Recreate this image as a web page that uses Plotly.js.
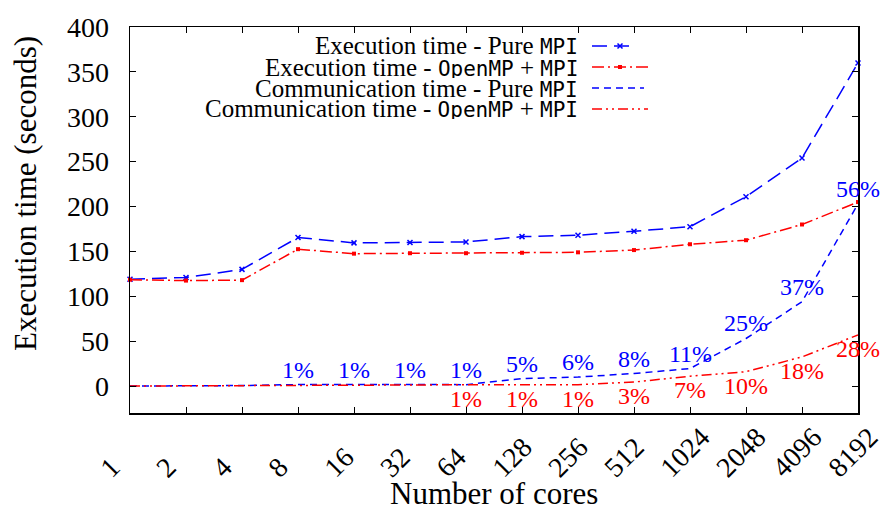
<!DOCTYPE html>
<html>
<head>
<meta charset="utf-8">
<script src="https://cdn.plot.ly/plotly-3.0.1.min.js"></script>
<style>html,body{margin:0;padding:0;background:#fff;}#chart{width:889px;height:511px;}</style>
</head>
<body>
<div id="chart"></div>
<script>
// ---- data ----
const cores = ['1','2','4','8','16','32','64','128','256','512','1024','2048','4096','8192'];
const execPure   = [119, 121, 130, 165.5, 159.5, 160, 160.5, 166.5, 168, 172.5, 177.5, 211, 254, 360];
const execHybrid = [118.5, 117.5, 118, 152.5, 147.5, 148, 148, 148.5, 149, 151.5, 158, 162.5, 180, 205];
const commPure   = [0, 0.2, 0.6, 1.7, 1.6, 1.6, 1.6, 8.3, 10, 14, 19.5, 53, 94, 203];
const commHybrid = [0, 0.1, 0.3, 1, 1, 1.2, 1.5, 1.5, 1.5, 4.5, 11, 16, 32.5, 57];
const pctPure    = ['', '', '', '1%', '1%', '1%', '1%', '5%', '6%', '8%', '11%', '25%', '37%', '56%'];
const pctHybrid  = ['', '', '', '', '', '', '1%', '1%', '1%', '3%', '7%', '10%', '18%', '28%'];
const legendNames = ['Execution time - Pure MPI', 'Execution time - OpenMP + MPI', 'Communication time - Pure MPI', 'Communication time - OpenMP + MPI'];

const idx = cores.map((c, i) => i);
const BLUE = '#0000ff', RED = '#ff0000';
const SERIF = 'Liberation Serif, serif';
const MONO = 'DejaVu Sans Mono';

function mono(s) {
  return s.replace(/(OpenMP|MPI)/g, '<span style="font-family:' + MONO + ';font-size:21px">$1</span>');
}

const traces = [
  {x: idx, y: execPure, mode: 'lines+markers', name: legendNames[0],
   line: {color: BLUE, width: 1.5, dash: '15px,7px'},
   marker: {symbol: 'x-thin', size: 5, line: {color: BLUE, width: 1.5}}, cliponaxis: false},
  {x: idx, y: execHybrid, mode: 'lines+markers', name: legendNames[1],
   line: {color: RED, width: 1.5, dash: '12px,4px,2px,4px'},
   marker: {symbol: 'square', size: 4, color: RED}, cliponaxis: false},
  {x: idx, y: commPure, mode: 'lines', name: legendNames[2],
   line: {color: BLUE, width: 1.5, dash: '7px,5px'}, cliponaxis: false},
  {x: idx, y: commHybrid, mode: 'lines', name: legendNames[3],
   line: {color: RED, width: 1.5, dash: '10px,4px,2px,4px,2px,4px'}, cliponaxis: false}
];

// plot area in pixels
const L = 130, R = 858, T = 27, B = 413;
const px = x => (x - L) / (R - L);
const py = y => (B - y) / (B - T);

const annotations = [];
pctPure.forEach((t, i) => { if (t) annotations.push({x: i, y: commPure[i], text: t, showarrow: false,
  yshift: 15, font: {family: SERIF, size: 24, color: BLUE}}); });
pctHybrid.forEach((t, i) => { if (t) annotations.push({x: i, y: commHybrid[i], text: t, showarrow: false,
  yshift: -14, font: {family: SERIF, size: 24, color: RED}}); });

// x tick labels: rotated, starting below-left of each tick
cores.forEach((c, i) => {
  annotations.push({x: i, xref: 'x', yref: 'paper', y: py(486), xanchor: 'left', yanchor: 'bottom',
    xshift: -39, textangle: -45, text: c, showarrow: false, font: {family: SERIF, size: 28, color: '#000'}});
});

// legend (text right aligned, samples to the right)
const rowY = [46, 67, 88, 109];
legendNames.forEach((n, k) => {
  annotations.push({xref: 'paper', yref: 'paper', x: px(580), y: py(rowY[k]), xanchor: 'right', yanchor: 'middle',
    height: 21, valign: 'middle',
    text: mono(n), showarrow: false, font: {family: SERIF, size: 25, color: '#000'}});
});
// axis titles
annotations.push({xref: 'paper', yref: 'paper', x: px(25), y: py(194), xanchor: 'center', yanchor: 'middle',
  textangle: -90, showarrow: false,
  text: 'Execution time (seconds)', font: {family: SERIF, size: 31, color: '#000'}});
annotations.push({xref: 'paper', yref: 'paper', x: 0.5, y: py(493), xanchor: 'center', yanchor: 'middle', showarrow: false,
  text: 'Number of cores', font: {family: SERIF, size: 31, color: '#000'}});

const shapes = [];
const sampleDash = ['15px,7px', '12px,4px,2px,4px', '7px,5px', '10px,4px,2px,4px,2px,4px'];
const sampleColor = [BLUE, RED, BLUE, RED];
const sampleEnd = [636, 648, 644, 648];
rowY.forEach((y, k) => {
  shapes.push({type: 'line', xref: 'paper', yref: 'paper', x0: px(592), x1: px(sampleEnd[k]), y0: py(y), y1: py(y),
    line: {color: sampleColor[k], width: 1.5, dash: sampleDash[k]}});
});
// legend marker samples
const mx = 620;
shapes.push({type: 'path', xref: 'paper', yref: 'paper',
  path: `M${px(mx-2.5)},${py(rowY[0]-2.5)} L${px(mx+2.5)},${py(rowY[0]+2.5)} M${px(mx-2.5)},${py(rowY[0]+2.5)} L${px(mx+2.5)},${py(rowY[0]-2.5)}`,
  line: {color: BLUE, width: 1.5}});
shapes.push({type: 'rect', xref: 'paper', yref: 'paper', x0: px(mx-2), x1: px(mx+2), y0: py(rowY[1]-2), y1: py(rowY[1]+2),
  fillcolor: RED, line: {color: RED, width: 0}});

const axisCommon = {showline: true, linecolor: '#000', linewidth: 1.5, mirror: 'allticks', ticks: 'inside',
  ticklen: 6, tickwidth: 1, tickcolor: '#000', showgrid: false, zeroline: false,
  tickfont: {family: SERIF, size: 28, color: '#000'}};

const layout = {
  width: 889, height: 511,
  margin: {l: L, r: 889 - R, t: T, b: 511 - B},
  paper_bgcolor: '#fff', plot_bgcolor: '#fff',
  showlegend: false,
  xaxis: Object.assign({}, axisCommon, {range: [0, cores.length - 1], tickvals: idx, ticktext: cores.map(() => ''),
    showticklabels: true}),
  yaxis: Object.assign({}, axisCommon, {range: [-30, 400], dtick: 50, tick0: 0, ticklabelstandoff: 14}),
  annotations: annotations,
  shapes: shapes
};

Plotly.newPlot('chart', traces, layout, {staticPlot: true, displayModeBar: false});
</script>
</body>
</html>
